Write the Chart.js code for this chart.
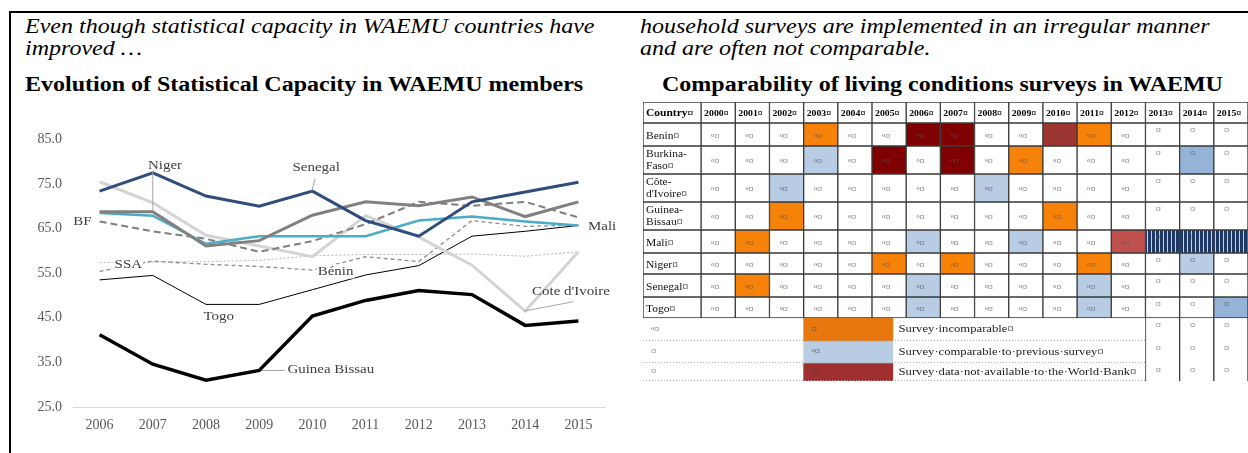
<!DOCTYPE html>
<html>
<head>
<meta charset="utf-8">
<script src="https://cdn.jsdelivr.net/npm/chart.js@4.4.0/dist/chart.umd.min.js"></script>
<style>
html, body { margin: 0; padding: 0; background: #fff; overflow: hidden; }
#page { position: relative; width: 1248px; height: 453px; font-family: 'Liberation Serif', 'Times New Roman', serif; }
.frame-top { position: absolute; left: 9px; top: 11px; width: 1239px; height: 2px; background: #000; }
.frame-left { position: absolute; left: 9px; top: 11px; width: 2px; height: 442px; background: #000; }
.txt { position: absolute; white-space: nowrap; transform-origin: 0 0; transform: scaleX(1.2); font-size: 20px; line-height: 22px; color: #000; }
.it { font-style: italic; }
.bd { font-weight: bold; }
#lineBox { position: absolute; left: 20px; top: 120px; width: 600px; height: 330px; }
#tableBox { position: absolute; left: 636px; top: 95px; width: 612px; height: 295px; }
</style>
</head>
<body>
<div id="page">
  <div class="frame-top"></div>
  <div class="frame-left"></div>
  <div class="txt it" style="left:25px;top:15px">Even though statistical capacity in WAEMU countries have</div>
  <div class="txt it" style="left:25px;top:37px">improved …</div>
  <div class="txt bd" style="left:25px;top:73px">Evolution of Statistical Capacity in WAEMU members</div>
  <div class="txt it" style="left:640px;top:15px">household surveys are implemented in an irregular manner</div>
  <div class="txt it" style="left:640px;top:37px">and are often not comparable.</div>
  <div class="txt bd" style="left:662px;top:73px">Comparability of living conditions surveys in WAEMU</div>
  <div id="lineBox"><canvas id="lineChart" width="600" height="330"></canvas></div>
  <div id="tableBox"><canvas id="tableChart" width="612" height="295"></canvas></div>
</div>
<script>
// ---- statistical capacity scores ----
const years = ['2006', '2007', '2008', '2009', '2010', '2011', '2012', '2013', '2014', '2015'];
const yTicks = [25, 35, 45, 55, 65, 75, 85];
const senegal = [73.4, 77.5, 72.3, 70.0, 73.4, 66.8, 63.3, 71.0, 73.2, 75.4];
const niger = [68.8, 68.8, 61.1, 62.3, 68.0, 71.0, 70.1, 72.1, 67.7, 71.0];
const mali = [68.5, 67.9, 61.6, 63.3, 63.3, 63.3, 66.8, 67.7, 66.6, 65.7];
const coteDIvoire = [75.5, 70.8, 63.5, 61.1, 58.7, 67.9, 63.1, 56.8, 46.5, 59.8];
const burkinaFaso = [66.6, 64.4, 62.7, 59.8, 62.2, 66.0, 71.0, 70.1, 71.0, 67.5];
const benin = [55.4, 57.7, 57.0, 56.5, 55.7, 58.7, 57.6, 66.8, 65.5, 65.8];
const ssa = [57.4, 57.5, 57.6, 57.9, 58.9, 59.2, 59.2, 59.3, 58.8, 59.8];
const togo = [53.5, 54.5, 48.0, 48.0, 51.3, 54.6, 56.7, 63.3, 64.4, 65.7];
const guineaBissau = [41.2, 34.6, 31.0, 33.2, 45.4, 48.9, 51.1, 50.2, 43.3, 44.3];

// ---- survey comparability table ----
const tableYears = ['2000', '2001', '2002', '2003', '2004', '2005', '2006', '2007',
  '2008', '2009', '2010', '2011', '2012', '2013', '2014', '2015'];
const tableCountries = ['Benin', 'Burkina-\nFaso', 'Côte-\nd\'Ivoire', 'Guinea-\nBissau', 'Mali', 'Niger', 'Senegal', 'Togo'];
// I = incomparable, C = comparable, N/R/r = not available, B = comparable (later), S = hatched
const beninSurveys = ['', '', '', 'I', '', '', 'N', 'N', '', '', 'R', 'I', '', '', '', ''];
const burkinaSurveys = ['', '', '', 'C', '', 'N', '', 'N', '', 'I', '', '', '', '', 'B', ''];
const coteSurveys = ['', '', 'C', '', '', '', '', '', 'C', '', '', '', '', '', '', ''];
const guineaSurveys = ['', '', 'I', '', '', '', '', '', '', '', 'I', '', '', '', '', ''];
const maliSurveys = ['', 'I', '', '', '', '', 'C', '', '', 'C', '', '', 'r', 'S', 'S', 'S'];
const nigerSurveys = ['', '', '', '', '', 'I', '', 'I', '', '', '', 'I', '', '', 'C', ''];
const senegalSurveys = ['', 'I', '', '', '', '', 'C', '', '', '', '', 'C', '', '', '', ''];
const togoSurveys = ['', '', '', '', '', '', 'C', '', '', '', '', 'C', '', '', '', 'B'];
const legendLabels = ['Survey·incomparable¤', 'Survey·comparable·to·previous·survey¤', 'Survey·data·not·available·to·the·World·Bank¤'];

const serif = "'Liberation Serif', 'Times New Roman', serif";

// ---------------- line chart ----------------
const lineSeries = [
  {label: 'Guinea Bissau', data: guineaBissau, color: '#000000', width: 3.5, dash: []},
  {label: 'Senegal', data: senegal, color: '#2E4C7C', width: 3, dash: []},
  {label: 'Niger', data: niger, color: '#808080', width: 3, dash: []},
  {label: 'Mali', data: mali, color: '#4BACC6', width: 2.5, dash: []},
  {label: 'BF', data: burkinaFaso, color: '#7F7F7F', width: 2, dash: [7, 4]},
  {label: "Cote d'Ivoire", data: coteDIvoire, color: '#D4D4D4', width: 3, dash: []},
  {label: 'Togo', data: togo, color: '#000000', width: 1, dash: []},
  {label: 'Bénin', data: benin, color: '#8C8C8C', width: 1.3, dash: [4, 3]},
  {label: 'SSA', data: ssa, color: '#B5B5B5', width: 1, dash: [2, 2]}
];

// label anchors are in (category index, value) units
const seriesLabels = [
  {text: 'Niger', x: 1.23, y: 79.2, align: 'center'},
  {text: 'Senegal', x: 4.07, y: 78.6, align: 'center'},
  {text: 'BF', x: -0.15, y: 66.6, align: 'right'},
  {text: 'Mali', x: 9.18, y: 65.5, align: 'left'},
  {text: 'SSA', x: 0.54, y: 56.9, align: 'center', box: true},
  {text: 'Bénin', x: 4.1, y: 55.4, align: 'left', box: true},
  {text: 'Togo', x: 2.24, y: 45.2, align: 'center'},
  {text: "Cote d'Ivoire", x: 8.86, y: 50.8, align: 'center'},
  {text: 'Guinea Bissau', x: 3.53, y: 33.4, align: 'left'}
];
const leaders = [
  [1.0, 77.9, 1.0, 68.9],
  [4.05, 76.2, 3.99, 73.5],
  [7.98, 46.5, 8.9, 48.6],
  [3.05, 33.2, 3.48, 33.2]
];

const labelPlugin = {
  id: 'seriesLabels',
  afterDatasetsDraw(chart) {
    const ctx = chart.ctx;
    const xs = chart.scales.x;
    const ys = chart.scales.y;
    ctx.save();
    ctx.strokeStyle = '#A6A6A6';
    ctx.lineWidth = 1;
    leaders.forEach(function (l) {
      ctx.beginPath();
      ctx.moveTo(xs.getPixelForValue(l[0]), ys.getPixelForValue(l[1]));
      ctx.lineTo(xs.getPixelForValue(l[2]), ys.getPixelForValue(l[3]));
      ctx.stroke();
    });
    ctx.font = '13px ' + serif;
    ctx.textBaseline = 'middle';
    seriesLabels.forEach(function (lab) {
      const px = xs.getPixelForValue(lab.x);
      const py = ys.getPixelForValue(lab.y);
      const w = ctx.measureText(lab.text).width * 1.15;
      let left = px;
      if (lab.align === 'center') left = px - w / 2;
      if (lab.align === 'right') left = px - w;
      if (lab.box) {
        ctx.fillStyle = '#fff';
        ctx.fillRect(left - 1, py - 7, w + 2, 14);
      }
      ctx.save();
      ctx.translate(left, py);
      ctx.scale(1.15, 1);
      ctx.fillStyle = '#404040';
      ctx.textAlign = 'left';
      ctx.fillText(lab.text, 0, 0);
      ctx.restore();
    });
    ctx.restore();
  }
};

new Chart(document.getElementById('lineChart').getContext('2d'), {
  type: 'line',
  data: {
    labels: years,
    datasets: lineSeries.map(function (s) {
      return {
        label: s.label,
        data: s.data,
        borderColor: s.color,
        borderWidth: s.width,
        borderDash: s.dash,
        pointRadius: 0,
        fill: false,
        tension: 0
      };
    })
  },
  options: {
    responsive: false,
    animation: false,
    layout: {padding: {left: 0, right: 15, top: 16, bottom: 13}},
    plugins: {legend: {display: false}, tooltip: {enabled: false}},
    scales: {
      x: {
        offset: true,
        grid: {display: false, drawTicks: false},
        border: {display: true, color: '#D9D9D9', width: 1},
        ticks: {color: '#595959', font: {family: serif, size: 14}, padding: 10, maxRotation: 0},
        afterFit: function (s) { s.height = 30; }
      },
      y: {
        min: yTicks[0],
        max: yTicks[yTicks.length - 1],
        grid: {display: false, drawTicks: false},
        border: {display: false},
        afterBuildTicks: function (s) { s.ticks = yTicks.map(function (v) { return {value: v}; }); },
        ticks: {
          color: '#595959',
          font: {family: serif, size: 14},
          padding: 11,
          callback: function (v) { return Number(v).toFixed(1); }
        },
        afterFit: function (s) { s.width = 53; }
      }
    }
  },
  plugins: [labelPlugin]
});

// ---------------- comparability table ----------------
const statusRows = [beninSurveys, burkinaSurveys, coteSurveys, guineaSurveys, maliSurveys, nigerSurveys, senegalSurveys, togoSurveys];
const rowKeys = ['Country'].concat(tableCountries, legendLabels);
const firstLegendRow = 1 + tableCountries.length;
// row heights in pixels (the y scale runs in pixels, top to bottom)
const rowHeights = [21, 23, 28, 28, 28, 23, 21, 23, 21, 23, 22, 18];
const X0 = 1998.3;
const legendSwatchFrom = 2003;
const legendSwatchTo = 2005.63;
const lastYear = 2016;

function hatch() {
  const c = document.createElement('canvas');
  c.width = 4; c.height = 4;
  const g = c.getContext('2d');
  g.fillStyle = '#1F3864';
  g.fillRect(0, 0, 4, 4);
  g.fillStyle = '#C9D3E3';
  g.fillRect(3, 0, 1, 4);
  return g.createPattern(c, 'repeat');
}
const statusColors = {
  '': '#FFFFFF', I: '#F7820A', C: '#B8CCE4', B: '#95B3D7',
  N: '#800000', R: '#9E3530', r: '#C0504D', S: hatch()
};
const swatchColors = ['#E8770E', '#B8CCE4', '#A0302F'];
const sideBorders = {left: 1, right: 1, top: 0, bottom: 0};

const tableSets = [];
let rowTop = 0;
rowKeys.forEach(function (key, r) {
  const mid = rowTop + rowHeights[r] / 2;
  rowTop += rowHeights[r];
  const cells = [];
  if (r < firstLegendRow) {
    cells.push({range: [X0, 2000], kind: 'name', bg: '#FFFFFF', bw: 1});
    tableYears.forEach(function (yr, k) {
      const y0 = Number(yr);
      cells.push({
        range: [y0, y0 + 1], kind: 'year', col: k, bw: 1,
        bg: r === 0 ? '#FFFFFF' : statusColors[statusRows[r - 1][k]]
      });
    });
  } else {
    const li = r - firstLegendRow;
    cells.push({range: [X0, legendSwatchFrom], kind: 'legLeft', bg: '#FFFFFF', bw: 0});
    cells.push({range: [legendSwatchFrom, legendSwatchTo], kind: 'legSwatch', bg: swatchColors[li], bw: 0});
    cells.push({range: [legendSwatchTo, 2013], kind: 'legText', bg: '#FFFFFF', bw: 0});
    tableYears.slice(13).forEach(function (yr, j) {
      const y0 = Number(yr);
      cells.push({range: [y0, y0 + 1], kind: 'year', col: 13 + j, bg: '#FFFFFF', bw: sideBorders});
    });
  }
  tableSets.push({
    label: key.replace('\n', ' '),
    row: r,
    cells: cells,
    data: cells.map(function (c) { return {x: c.range, y: mid}; }),
    backgroundColor: cells.map(function (c) { return c.bg; }),
    borderWidth: cells.map(function (c) { return c.bw; }),
    borderColor: '#3A3A3A',
    borderSkipped: false,
    barThickness: rowHeights[r],
    stack: 'table'
  });
});
const tableHeight = rowTop;

function cellBox(el) {
  const l = Math.min(el.x, el.base);
  const r = Math.max(el.x, el.base);
  return {l: l, r: r, w: r - l, t: el.y - el.height / 2, b: el.y + el.height / 2, cy: el.y};
}

function drawScaled(ctx, text, x, y, font, color) {
  ctx.save();
  ctx.font = font;
  ctx.fillStyle = color;
  ctx.textAlign = 'left';
  ctx.textBaseline = 'middle';
  ctx.translate(x, y);
  ctx.scale(1.15, 1);
  ctx.fillText(text, 0, 0);
  ctx.restore();
}

const tableTextPlugin = {
  id: 'tableText',
  afterDatasetsDraw(chart) {
    const ctx = chart.ctx;
    const mark = '9px ' + serif;
    chart.data.datasets.forEach(function (ds, i) {
      const meta = chart.getDatasetMeta(i);
      const r = ds.row;
      meta.data.forEach(function (el, j) {
        const cell = ds.cells[j];
        const c = cellBox(el);
        if (cell.kind === 'name') {
          if (r === 0) {
            drawScaled(ctx, 'Country¤', c.l + 3, c.cy + 1, 'bold 10px ' + serif, '#000');
          } else {
            const lines = rowKeys[r].split('\n');
            if (lines.length === 1) {
              drawScaled(ctx, lines[0] + '¤', c.l + 3, c.cy + 2, '10px ' + serif, '#111');
            } else {
              drawScaled(ctx, lines[0], c.l + 3, c.cy - 6, '10px ' + serif, '#111');
              drawScaled(ctx, lines[1] + '¤', c.l + 3, c.cy + 6, '10px ' + serif, '#111');
            }
          }
        } else if (cell.kind === 'year') {
          if (r === 0) {
            drawScaled(ctx, tableYears[cell.col] + '¤', c.l + 3, c.cy + 1, 'bold 8.5px ' + serif, '#000');
          } else if (cell.col >= 13) {
            drawScaled(ctx, '¤', c.l + c.w * 0.3, c.t + 8, mark, '#555');
          } else {
            drawScaled(ctx, 'ᵒ¤', c.l + c.w * 0.3, c.cy + 2, mark, '#555');
          }
        } else if (cell.kind === 'legLeft') {
          drawScaled(ctx, r === firstLegendRow ? 'ᵒ¤' : '¤', c.l + 8, c.cy, mark, '#555');
        } else if (cell.kind === 'legSwatch') {
          drawScaled(ctx, r === firstLegendRow ? '¤' : 'ᵒ¤', c.l + 8, c.cy, mark, '#444');
        } else if (cell.kind === 'legText') {
          drawScaled(ctx, legendLabels[r - firstLegendRow], c.l + 5, c.cy, '11px ' + serif, '#222');
          // dotted row separator across the legend part
          ctx.save();
          ctx.strokeStyle = '#B0B0B0';
          ctx.setLineDash([1, 2]);
          ctx.lineWidth = 1;
          ctx.beginPath();
          ctx.moveTo(chart.chartArea.left, Math.round(c.b) - 0.5);
          ctx.lineTo(c.r, Math.round(c.b) - 0.5);
          ctx.stroke();
          ctx.restore();
        }
      });
    });
  }
};

new Chart(document.getElementById('tableChart').getContext('2d'), {
  type: 'bar',
  data: {datasets: tableSets},
  options: {
    indexAxis: 'y',
    responsive: false,
    animation: false,
    layout: {padding: {left: 7, right: 0, top: 7, bottom: 295 - 7 - tableHeight}},
    plugins: {legend: {display: false}, tooltip: {enabled: false}},
    scales: {
      x: {type: 'linear', min: X0, max: lastYear, display: false, stacked: false, offset: false},
      y: {type: 'linear', min: 0, max: tableHeight, reverse: true, display: false, stacked: true, offset: false}
    }
  },
  plugins: [tableTextPlugin]
});
</script>
</body>
</html>
